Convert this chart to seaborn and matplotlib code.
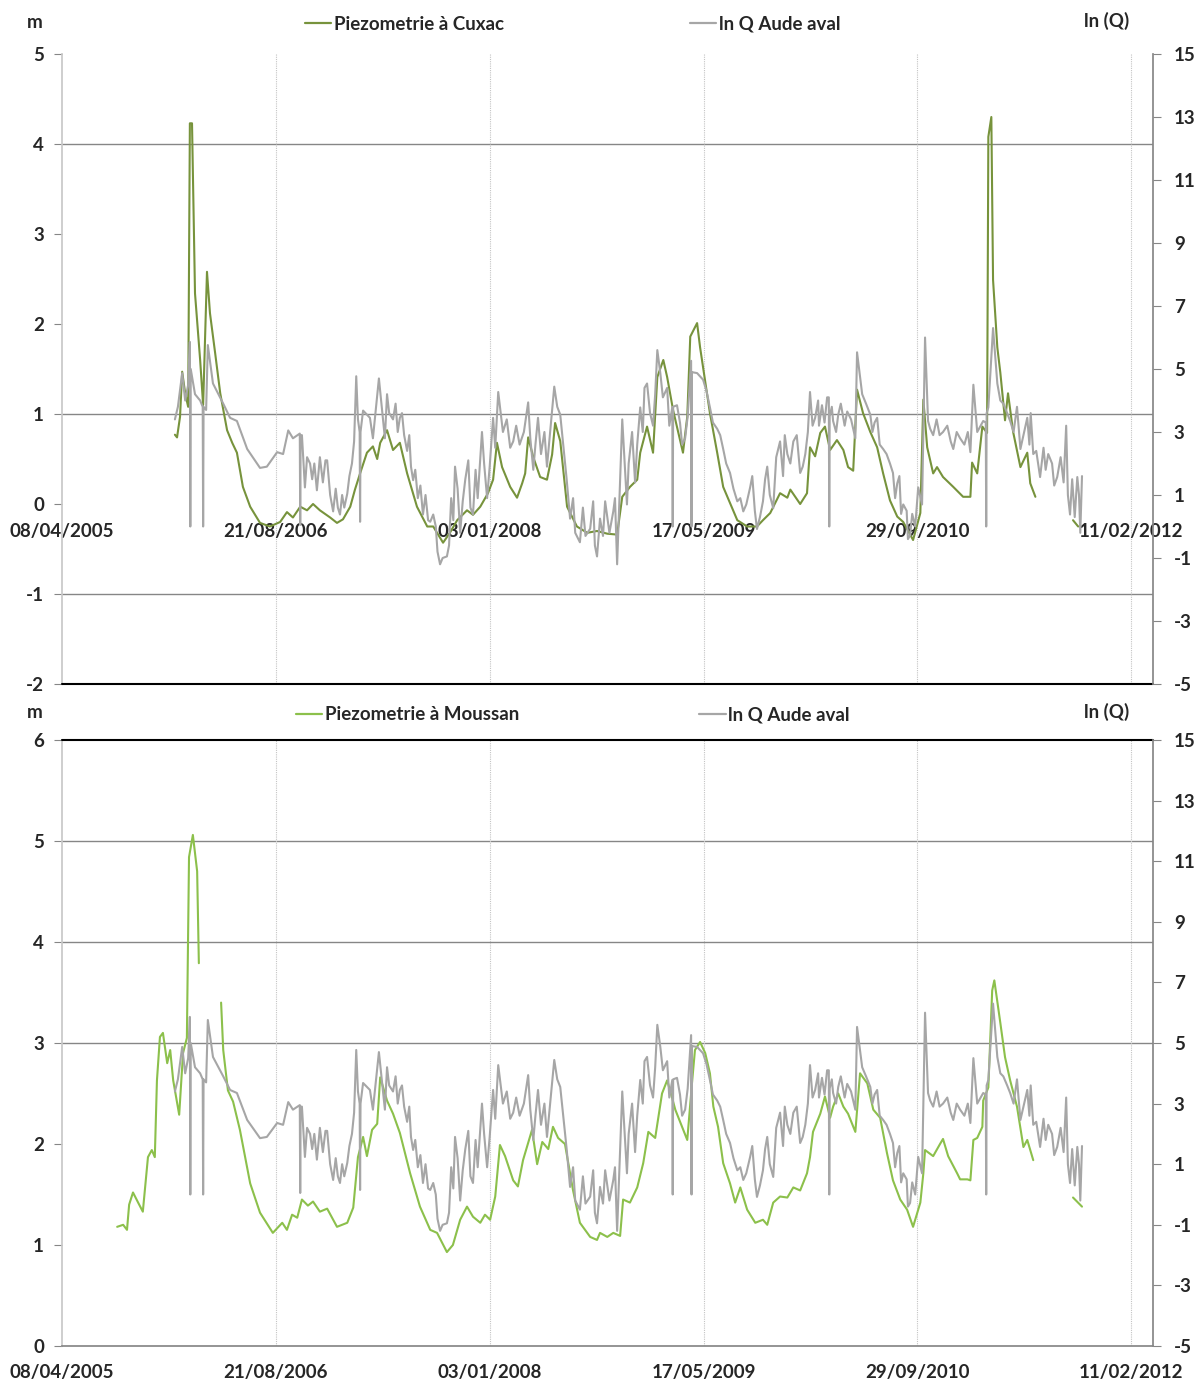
import numpy as np
import pandas as pd
import seaborn as sns
import matplotlib.pyplot as plt
import matplotlib.dates as mdates
from matplotlib.lines import Line2D

# dates are stored as days after 08/04/2005 (start of the date axis)
START = pd.Timestamp('2005-04-08')

# ln Q Aude aval (shared by both panels); sorted by day in code
q_days = [264, 271, 281, 288, 295, 299, 300, 301, 311, 323, 329, 330, 331, 337, 341, 353, 377, 393, 409,
          433, 463, 479, 503, 517, 529, 540, 556, 557, 558, 568, 580, 596, 620, 634, 650, 667, 678, 688,
          692, 696, 697, 698, 704, 720, 727, 741, 755, 760, 774, 790, 807, 821, 844, 861, 868, 884, 900,
          919, 931, 950, 961, 982, 994, 1008, 1020, 1031, 1055, 1090, 1102, 1113, 1134, 1151, 1165, 1188,
          1211, 1235, 1251, 1258, 1289, 1298, 1310, 1321, 1333, 1340, 1352, 1368, 1382, 1392, 1399, 1415,
          1427, 1428, 1429, 1438, 1457, 1471, 1472, 1473, 1485, 1499, 1515, 1532, 1546, 1562, 1579, 1593,
          1609, 1625, 1639, 1649, 1663, 1679, 1696, 1710, 1726, 1738, 1749, 1761, 1777, 1789, 1793, 1794,
          1795, 1803, 1815, 1836, 1855, 1859, 1871, 1890, 1906, 1920, 1936, 1953, 1967, 1983, 1995, 2002,
          2011, 2018, 2025, 2037, 2060, 2084, 2100, 2124, 2131, 2140, 2154, 2160, 2161, 2162, 2166, 2177,
          2187, 2201, 2217, 2241, 2257, 2271, 2287, 2306, 2327, 2348, 2357, 2374, 2381, 2385,
          # extra reads in the jagged stretches
          561, 573, 585, 590, 603, 610, 616, 627, 640, 645, 655, 660, 672, 683,
          765, 780, 785, 795, 800, 812, 816, 826, 832, 838,
          850, 856, 874, 878, 890, 905, 910, 915, 925, 937, 943, 955, 967, 972, 987, 1000, 1013,
          1040, 1048, 1062, 1070, 1080, 1095, 1107, 1120, 1128, 1140, 1158,
          1172, 1180, 1195, 1200, 1218, 1224, 1242, 1246, 1265, 1270, 1280, 1293,
          1325, 1345, 1358, 1362, 1375, 1387, 1405, 1420, 1445, 1450, 1463,
          1507, 1522, 1539, 1553, 1570, 1586, 1600, 1614, 1620, 1632, 1644, 1655, 1670, 1686, 1690, 1703,
          1718, 1732, 1744, 1755, 1768, 1770, 1783, 1800, 1810, 1821, 1830, 1845,
          1880, 1895, 1900, 1912, 1928, 1943, 1948, 1958, 1962, 1975, 1978, 1988,
          2030, 2045, 2052, 2070, 2078, 2092, 2110, 2118,
          2194, 2210, 2225, 2233, 2248, 2262, 2265, 2278, 2295, 2300, 2315, 2320, 2335, 2342, 2352, 2362,
          2368, 2378]
q_vals = [3.4, 3.8, 4.87, 4.0, 4.5, 5.86, 0.0, 5.0, 4.2, 4.0, 3.8, 0.0, 3.8, 3.7, 5.76, 4.54, 3.9, 3.45, 3.35,
          2.46, 1.86, 1.9, 2.36, 2.3, 3.05, 2.8, 2.95, 0.05, 2.9, 1.24, 2.0, 1.15, 2.1, 0.48, 0.38, 1.04, 2.0, 4.77,
          3.4, 3.0, 0.15, 3.0, 3.68, 3.45, 2.8, 4.7, 2.8, 4.2, 3.4, 3.45, 2.4, 1.47, 0.38, 0.15, 0.38, -1.2, -0.95,
          1.9, -0.2, 2.1, 0.38, 3.0, 0.9, 3.45, 4.27, 3.0, 2.7, 3.94, 1.8, 3.45, 1.9, 4.44, 3.55, 0.25,
          -0.5, -0.07, -0.95, 0.25, 0.48, -1.2, 3.4, 0.7, 3.0, 1.4, 3.78, 4.54, 3.2, 5.6, 4.87, 4.4,
          3.78, 0.0, 3.8, 3.85, 2.8, 5.26, 0.0, 4.9, 4.87, 4.66, 3.78, 3.1, 2.46, 1.7, 0.8, 0.48,
          1.24, -0.08, 0.8, 1.9, 0.58, 2.7, 2.3, 2.7, 1.7, 2.3, 4.27, 3.45, 3.85, 4.1, 4.1, 0.0,
          3.5, 3.35, 3.55, 3.65, 2.8, 5.53, 4.2, 3.55, 3.45, 2.46, 2.0, 1.37, 0.7, -0.28, 0.0, 1.24,
          0.7, 6.0, 3.35, 2.9, 3.0, 2.46, 2.8, 2.36, 4.5, 3.0, 3.35, 3.3, 0.0, 3.6, 3.78, 6.3,
          4.54, 3.9, 3.35, 2.46, 3.45, 2.3, 1.57, 2.3, 1.57, 3.2, 0.38, 1.57, -0.2, 1.6,
          2.9, 2.2, 1.5, 2.0, 2.2, 1.4, 2.1, 1.0, 1.2, 0.6, 1.0, 0.6, 1.6, 2.7,
          3.6, 3.9, 3.0, 3.6, 2.9, 2.9, 1.9, 1.8, 0.9, 1.3,
          1.0, 0.2, 0.0, -0.8, -1.0, -0.6, 0.9, 0.2, 1.2, 0.8, 1.5, 0.6, 1.8, 0.9, 2.0, 1.9, 2.5,
          3.4, 2.5, 3.2, 2.6, 3.0, 2.8, 2.6, 2.3, 3.0, 2.8, 3.8,
          2.6, 1.5, 0.9, -0.2, 0.6, -0.3, 0.8, -0.6, -0.3, 0.8, -0.2, 0.9,
          2.0, 2.6, 3.0, 4.4, 3.6, 4.2, 4.1, 3.2, 3.3, 2.6, 3.5,
          4.3, 3.3, 2.9, 2.0, 1.2, 0.9, 0.7, 1.6, 0.5, 0.3, 1.5, 1.0, 2.2, 1.6, 2.9, 2.0,
          2.9, 1.9, 3.0, 3.2, 4.0, 3.2, 3.3, 3.8, 3.0, 3.9, 3.2, 3.4,
          3.9, 3.0, 3.3, 2.6, 2.3, 1.7, 0.9, 1.6, 0.4, 0.5, -0.4, 0.4,
          3.1, 3.4, 2.9, 3.2, 2.7, 3.0, 2.6, 3.0,
          4.0, 3.6, 3.0, 3.8, 2.9, 2.6, 3.6, 2.4, 2.5, 1.8, 2.0, 1.3, 2.2, 1.4, 1.0, 1.5,
          0.3, 1.0]

# Piezometrie a Cuxac (m), NaN = gap in record
cuxac_days = [264, 269, 276, 281, 288, 295, 299, 304, 311, 323, 330, 339, 346, 358, 370, 386, 398, 409, 423,
              440, 463, 486, 510, 526, 540, 557, 573, 587, 603, 627, 643, 657, 674, 685, 697, 713, 727, 737,
              744, 760, 774, 790, 807, 830, 854, 868, 891, 907, 924, 947, 961, 978, 996, 1008, 1017, 1029,
              1048, 1064, 1076, 1083, 1090, 1102, 1118, 1134, 1146, 1153, 1165, 1181, 1204, 1228, 1251,
              1275, 1298, 1310, 1328, 1345, 1352, 1368, 1382, 1392, 1406, 1415, 1429, 1445, 1452, 1462,
              1469, 1485, 1492, 1499, 1515, 1532, 1546, 1562, 1579, 1602, 1625, 1639, 1656, 1679, 1696,
              1703, 1726, 1742, 1749, 1761, 1773, 1784, 1796, 1812, 1827, 1838, 1850, 1859, 1873, 1890,
              1906, 1920, 1936, 1953, 1967, 1990, 2007, 2014, 2023, 2037, 2046, 2060, 2084, 2107, 2124,
              2128, 2140, 2152, 2163, 2166, 2173, 2177, 2187, 2194, 2205, 2212, 2224, 2241, 2257, 2264,
              2276, 2320, 2364, 2376]
cuxac_vals = [0.77, 0.74, 0.97, 1.47, 1.23, 1.08, 4.23, 4.23, 2.34, 1.6, 1.1, 2.58, 2.12, 1.68, 1.23, 0.82, 0.68,
              0.57, 0.19, -0.03, -0.21, -0.25, -0.2, -0.09, -0.15, -0.03, -0.07, 0.0, -0.07, -0.15, -0.21, -0.17,
              -0.03, 0.16, 0.34, 0.57, 0.64, 0.5, 0.68, 0.82, 0.6, 0.68, 0.34, -0.03, -0.25, -0.25, -0.43,
              -0.32, -0.18, -0.07, -0.12, -0.03, 0.12, 0.27, 0.68, 0.41, 0.19, 0.07, 0.23, 0.34, 0.74, 0.52,
              0.3, 0.27, 0.55, 0.9, 0.7, -0.03, -0.25, -0.32, -0.3, -0.33, -0.34, 0.08, 0.19, 0.27, 0.57,
              0.86, 0.57, 1.41, 1.6, 1.41, 1.04, 0.71, 0.57, 0.97, 1.86, 2.01, 1.74, 1.52, 1.01, 0.57, 0.19,
              0.01, -0.18, -0.25, -0.25, -0.18, -0.1, 0.12, 0.07, 0.16, 0.0, 0.12, 0.63, 0.53, 0.79, 0.86,
              0.6, 0.71, 0.6, 0.41, 0.37, 1.27, 1.01, 0.8, 0.63, 0.34, 0.04, -0.14, -0.2, -0.4, -0.1, 1.16,
              0.63, 0.34, 0.41, 0.3, 0.19, 0.08, 0.08, 0.46, 0.34, 0.86, 0.79, 4.08, 4.3, 2.49, 1.74, 1.46,
              0.93, 1.23, 0.8, 0.41, 0.57, 0.23, 0.08, np.nan, -0.18, -0.25]

# Piezometrie a Moussan (m)
moussan_days = [129, 143, 152, 157, 166, 178, 189, 201, 210, 217, 222, 229, 236, 246, 253, 260, 274, 283, 292,
                297, 306, 316, 320, 346, 372, 377, 388, 400, 416, 440, 463, 493, 515, 526, 538, 550, 561, 575,
                587, 603, 620, 643, 667, 681, 692, 704, 713, 725, 737, 744, 760, 774, 790, 814, 837, 861,
                877, 900, 914, 931, 947, 961, 978, 989, 1001, 1013, 1024, 1036, 1055, 1066, 1078, 1099,
                1111, 1123, 1137, 1148, 1160, 1176, 1195, 1211, 1235, 1251, 1258, 1275, 1289, 1305, 1312,
                1328, 1345, 1359, 1371, 1387, 1403, 1415, 1427, 1434, 1450, 1462, 1473, 1480, 1492, 1504,
                1515, 1523, 1534, 1546, 1562, 1574, 1586, 1602, 1621, 1639, 1649, 1663, 1679, 1696, 1710,
                1726, 1742, 1749, 1756, 1773, 1784, 1796, 1803, 1815, 1827, 1838, 1855, 1866, 1883, 1897,
                1913, 1929, 1943, 1960, 1976, 1990, 2007, 2014, 2018, 2037, 2053, 2060, 2072, 2093, 2100,
                2117, 2124, 2131, 2140, 2152, 2154, 2166, 2175, 2180, 2194, 2205, 2217, 2233, 2248, 2257,
                2271, 2320, 2364, 2385]
moussan_vals = [1.18, 1.2, 1.15, 1.4, 1.52, 1.42, 1.33, 1.87, 1.94, 1.87, 2.63, 3.06, 3.1, 2.8, 2.93, 2.63, 2.29,
                2.9, 3.05, 4.84, 5.06, 4.7, 3.79, np.nan, 3.4, 2.93, 2.53, 2.42, 2.14, 1.61, 1.32, 1.12, 1.22,
                1.15, 1.3, 1.27, 1.45, 1.39, 1.43, 1.33, 1.36, 1.18, 1.22, 1.37, 1.87, 2.07, 1.88, 2.14, 2.2,
                2.66, 2.43, 2.3, 2.11, 1.71, 1.38, 1.15, 1.12, 0.93, 1.0, 1.25, 1.38, 1.28, 1.22, 1.3, 1.25,
                1.48, 1.99, 1.88, 1.64, 1.58, 1.84, 2.14, 1.8, 2.02, 1.95, 2.17, 2.06, 2.0, 1.54, 1.22, 1.08,
                1.05, 1.12, 1.08, 1.12, 1.09, 1.45, 1.42, 1.57, 1.81, 2.12, 2.06, 2.5, 2.63, 2.45, 2.34, 2.17,
                2.04, 2.6, 2.93, 3.01, 2.9, 2.7, 2.37, 2.17, 1.81, 1.61, 1.42, 1.57, 1.35, 1.22, 1.25, 1.2,
                1.42, 1.48, 1.47, 1.57, 1.54, 1.71, 1.87, 2.12, 2.3, 2.47, 2.26, 2.37, 2.5, 2.37, 2.3, 2.12,
                2.7, 2.6, 2.34, 2.26, 1.91, 1.64, 1.45, 1.35, 1.18, 1.42, 1.71, 1.94, 1.88, 2.0, 2.05, 1.88,
                1.71, 1.65, 1.65, 1.64, 2.04, 2.06, 2.17, 2.43, 2.56, 3.52, 3.62, 3.2, 2.86, 2.63, 2.37, 1.97,
                2.04, 1.84, np.nan, 1.47, 1.38]

tick_days = [0, 500, 1000, 1500, 2000, 2500]
x_end_day = 2551


def to_frame(days, vals):
    df = pd.DataFrame({'day': days, 'val': vals}).sort_values('day', kind='stable')
    df['date'] = START + pd.to_timedelta(df['day'], unit='D')
    df['seg'] = df['val'].isna().cumsum()
    return df.dropna()


q_df = to_frame(q_days, q_vals)
cux_df = to_frame(cuxac_days, cuxac_vals)
mou_df = to_frame(moussan_days, moussan_vals)
tick_dates = [START + pd.Timedelta(days=d) for d in tick_days]

sns.set_theme(style='white')
plt.rcParams['font.family'] = ['Lato', 'DejaVu Sans']
plt.rcParams['font.weight'] = 'bold'
plt.rcParams['axes.unicode_minus'] = False

C_CUX = '#77933C'
C_MOU = '#8CC04B'
C_Q = '#A6A6A6'
GRID = '#868686'
FS = 13.5

fig = plt.figure(figsize=(11.99, 13.83), dpi=100)
ax1 = fig.add_axes([62 / 1199, 1 - 684 / 1383, 1091 / 1199, 630 / 1383])
ax2 = fig.add_axes([62 / 1199, 1 - 1346 / 1383, 1091 / 1199, 606 / 1383])

panels = [
    (ax1, cux_df, C_CUX, 'Piezometrie à Cuxac', (-2, 5), [4, 1, -1], 24, 305, 9.9),
    (ax2, mou_df, C_MOU, 'Piezometrie à Moussan', (0, 6), [5, 4, 3], 715, 296, 9.6),
]

for ax, pdf, col, name, ylim, hlines, ytxt, xleg, cspace in panels:
    sns.lineplot(data=pdf, x='date', y='val', units='seg', estimator=None, color=col, lw=1.5, ax=ax)
    ax.set_xlim(START, START + pd.Timedelta(days=x_end_day))
    ax.set_ylim(*ylim)
    ax.set_yticks(range(ylim[0], ylim[1] + 1))
    ax.set_xticks(tick_dates)
    ax.xaxis.set_major_formatter(mdates.DateFormatter('%d/%m/%Y'))
    ax.set_xlabel('')
    ax.set_ylabel('')
    for h in hlines:
        ax.axhline(h, color=GRID, lw=1, zorder=0)
    for d in tick_dates[1:]:
        ax.axvline(d, color='#c4c4c4', lw=0.8, ls=(0, (1, 1)), zorder=0)
    for s in ['top', 'right']:
        ax.spines[s].set_visible(False)
    ax.spines['left'].set_color('#c8c8c8')
    ax.tick_params(axis='y', length=6, width=0.8, color=GRID, pad=7, labelsize=FS)
    for lab in ax.get_yticklabels() + ax.get_xticklabels():
        lab.set_fontweight('bold')

    tx = ax.twinx()
    sns.lineplot(data=q_df, x='date', y='val', units='seg', estimator=None, color=C_Q, lw=1.5, ax=tx)
    tx.set_ylim(-5, 15)
    tx.set_yticks(range(-5, 16, 2))
    tx.set_ylabel('')
    for s in ['top', 'left', 'bottom']:
        tx.spines[s].set_visible(False)
    tx.spines['right'].set_color(GRID)
    tx.tick_params(axis='y', length=6, width=0.8, color=GRID, pad=9, labelsize=FS)
    for lab in tx.get_yticklabels():
        lab.set_fontweight('bold')

    handles = [Line2D([], [], color=col, lw=1.6), Line2D([], [], color=C_Q, lw=1.6)]
    ax.legend(handles, [name, 'ln Q Aude aval'], ncol=2, frameon=False, fontsize=FS,
              loc='center left', bbox_to_anchor=(xleg / 1199, 1 - ytxt / 1383),
              bbox_transform=fig.transFigure, handlelength=1.4, handletextpad=0.15,
              columnspacing=cspace, borderpad=0, borderaxespad=0)
    fig.text(35 / 1199, 1 - (ytxt - 2) / 1383, 'm', ha='center', va='center', fontsize=FS, fontweight='bold')
    fig.text(1107 / 1199, 1 - (ytxt - 3) / 1383, 'ln (Q)', ha='center', va='center', fontsize=FS,
             fontweight='bold')

# top panel: date labels sit on the 0 m line, frame line at -2
ax1.spines['bottom'].set_position(('data', 0))
ax1.spines['bottom'].set_visible(False)
ax1.tick_params(axis='x', length=0, pad=14, labelsize=FS)
ax1.axhline(-2, color='black', lw=1.5, clip_on=False, zorder=5)

# bottom panel: black top frame, grey axis at 0
ax2.axhline(6, color='black', lw=1.5, clip_on=False, zorder=5)
ax2.spines['bottom'].set_color(GRID)
ax2.tick_params(axis='x', length=5, width=0.8, color=GRID, pad=8, labelsize=FS)

fig.savefig('out.png', dpi=100)
